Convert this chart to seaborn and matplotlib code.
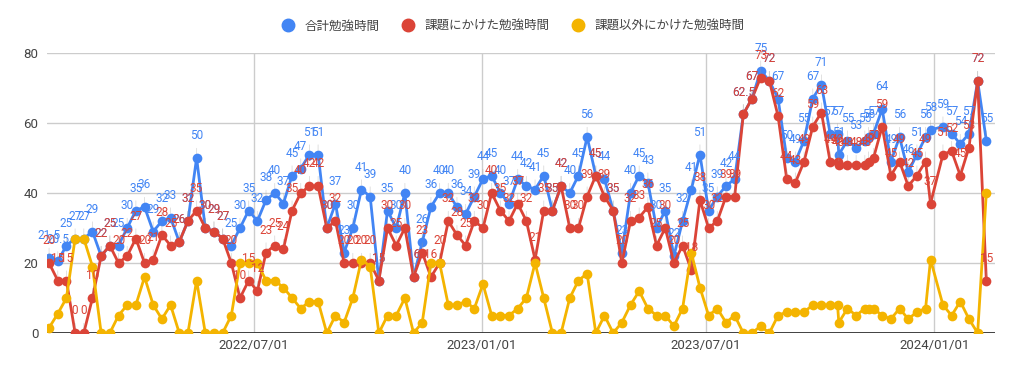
import pandas as pd
import seaborn as sns
import matplotlib.pyplot as plt
import matplotlib.dates as mdates
from matplotlib.lines import Line2D

# 系列名と色
series_names = ['合計勉強時間', '課題にかけた勉強時間', '課題以外にかけた勉強時間']
colors = ['#4285F4', '#DB4437', '#F4B400']

# 日付（週ごと + 終盤の不規則な記録日）
tail_dates = ['2023-10-09', '2023-10-15', '2023-10-16', '2023-10-23', '2023-10-30',
              '2023-11-06', '2023-11-09', '2023-11-13', '2023-11-20', '2023-11-27',
              '2023-12-04', '2023-12-11', '2023-12-18', '2023-12-25', '2023-12-29',
              '2024-01-08', '2024-01-15', '2024-01-22', '2024-01-29', '2024-02-05',
              '2024-02-12']
dates = list(pd.date_range('2022-01-17', periods=90, freq='7D')) + list(pd.to_datetime(tail_dates))

total = [21.5, 20.5, 25, 27, 27, 29, 22, 25, 25, 30,
         35, 36, 29, 32, 33, 26, 32, 50, 30, 29,
         27, 25, 30, 35, 32, 38, 40, 37, 45, 47,
         51, 51, 30, 37, 23, 30, 41, 39, 15, 35,
         30, 40, 16, 26, 36, 40, 40, 36, 34, 39,
         44, 45, 40, 37, 44, 42, 41, 45, 35, 42,
         40, 45, 56, 45, 44, 35, 23, 40, 45, 43,
         30, 35, 22, 32, 41, 51, 35, 39, 42, 44,
         62.5, 67, 75, 72, 67, 50, 49, 55, 67, 71,
         57, 57, 51, 55, 53, 55, 56, 57, 64, 49,
         56, 46, 51, 56, 58, 59, 57, 54, 57, 72, 55]

assignment = [20, 15, 15, 0, 0, 10, 22, 25, 20, 22,
              27, 20, 21, 28, 25, 26, 32, 35, 30, 29,
              27, 20, 10, 15, 12, 23, 25, 24, 35, 40,
              42, 42, 30, 32, 20, 20, 20, 20, 15, 30,
              25, 30, 16, 23, 16, 20, 32, 28, 25, 32,
              30, 40, 35, 32, 37, 32, 21, 35, 35, 42,
              30, 30, 39, 45, 39, 35, 20, 32, 33, 36,
              25, 30, 20, 25, 18, 38, 30, 32, 39, 39,
              62.5, 67, 73, 72, 62, 44, 43, 49, 59, 63,
              49, 49, 48, 48, 48, 48, 49, 50, 59, 45,
              49, 42, 45, 49, 37, 51, 52, 45, 53, 72, 15]

other = [1.5, 5.5, 10, 27, 27, 19, 0, 0, 5, 8,
         8, 16, 8, 4, 8, 0, 0, 15, 0, 0,
         0, 5, 20, 20, 20, 15, 15, 13, 10, 7,
         9, 9, 0, 5, 3, 10, 21, 19, 0, 5,
         5, 10, 0, 3, 20, 20, 8, 8, 9, 7,
         14, 5, 5, 5, 7, 10, 20, 10, 0, 0,
         10, 15, 17, 0, 5, 0, 3, 8, 12, 7,
         5, 5, 2, 7, 23, 13, 5, 7, 3, 5,
         0, 0, 2, 0, 5, 6, 6, 6, 8, 8,
         8, 8, 3, 7, 5, 7, 7, 7, 5, 4,
         7, 4, 6, 7, 21, 8, 5, 9, 4, 0, 40]

xticks = ['2022-07-01', '2023-01-01', '2023-07-01', '2024-01-01']
yticks = [0, 20, 40, 60, 80]

# long形式のデータフレーム
df = pd.DataFrame({
    'date': dates * 3,
    'series': [series_names[0]] * len(dates) + [series_names[1]] * len(dates) + [series_names[2]] * len(dates),
    'value': total + assignment + other,
})

sns.set_style('white')
plt.rcParams['font.family'] = ['Roboto', 'Noto Sans CJK JP', 'DejaVu Sans']

fig = plt.figure(figsize=(10.09, 3.73), dpi=100)
ax = fig.add_axes([46.6 / 1009, 40 / 373, (995 - 46.6) / 1009, 280 / 373])

sns.lineplot(data=df, x='date', y='value', hue='series', hue_order=series_names,
             palette=colors, marker='o', markersize=7, markeredgewidth=0,
             linewidth=2, estimator=None, legend=False, ax=ax)

# データラベル（合計と課題のみ）
def fmt(v):
    return f'{v:g}'

for vals, c in zip([total, assignment], colors[:2]):
    for d, v in zip(dates, vals):
        ax.annotate(fmt(v), (d, v), xytext=(0, 16), textcoords='offset points',
                    ha='center', va='center', color=c, fontsize=8.5,
                    arrowprops=dict(arrowstyle='-', color='#999999', lw=0.6, alpha=0.35,
                                    shrinkA=2, shrinkB=3),
                    annotation_clip=False, zorder=5)

ax.set_ylim(0, 80)
ax.set_yticks(yticks)
ax.set_xlim(pd.Timestamp('2022-01-15'), pd.Timestamp('2024-02-19'))
ax.set_xticks(pd.to_datetime(xticks))
ax.xaxis.set_major_formatter(mdates.DateFormatter('%Y/%m/%d'))
ax.grid(True, color='#cccccc', lw=1)
ax.set_axisbelow(True)
ax.axhline(0, color='#333333', lw=1.3, zorder=1)
for s in ax.spines.values():
    s.set_visible(False)
ax.tick_params(length=0, labelcolor='#444444', labelsize=9.5)
ax.tick_params(axis='y', pad=6)
ax.tick_params(axis='x', pad=4)
ax.set_xlabel('')
ax.set_ylabel('')

handles = [Line2D([], [], marker='o', color=c, linestyle='', markersize=9) for c in colors]
fig.legend(handles, series_names, loc='center', bbox_to_anchor=(510 / 1009, 1 - 26 / 373),
           ncol=3, frameon=False, fontsize=9, handletextpad=0.3, columnspacing=1.3,
           labelcolor='#444444')

fig.savefig('out.png', dpi=100)
